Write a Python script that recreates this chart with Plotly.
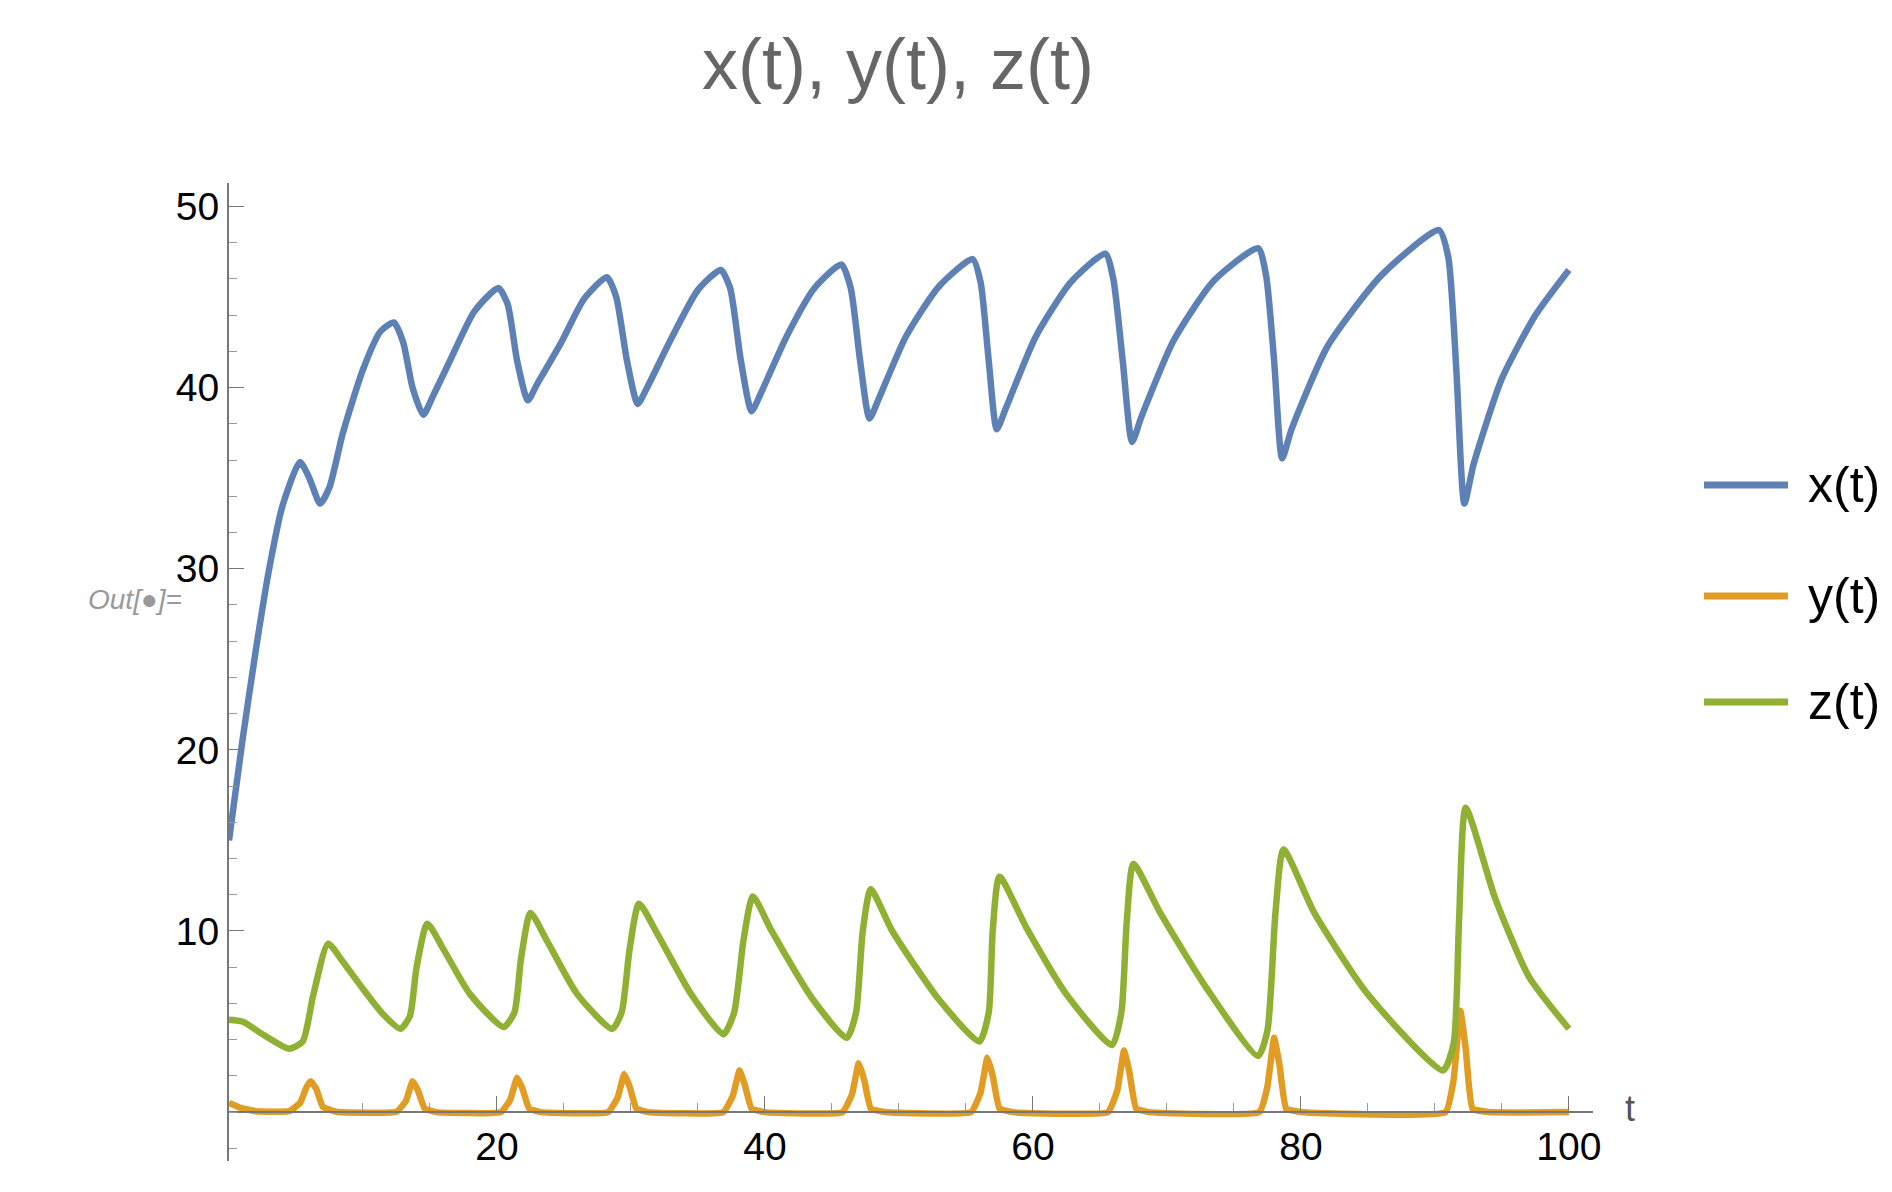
import plotly.graph_objects as go

# values
x_t = [0, 1, 2, 3, 4, 5.3, 6.0, 6.8, 7.5, 8.5, 10, 11.3, 12.3, 13.0, 13.7, 14.5, 15.2, 16.5, 18.3,
       20.1, 20.8, 21.5, 22.3, 23.0, 24.8, 26.5, 28.2, 28.9, 29.7, 30.5, 31.2, 33, 35, 36.7, 37.4,
       38.2, 39.0, 39.7, 41.6, 43.7, 45.7, 46.4, 47.1, 47.8, 48.5, 50.5, 53, 55.5, 56.1, 56.7, 57.3,
       58.0, 60.2, 62.8, 65.4, 66.0, 66.7, 67.4, 68.1, 70.5, 73.5, 76.8, 77.4, 78.0, 78.6, 79.3, 82,
       86, 90.3, 91.0, 91.6, 92.2, 92.9, 95, 97.5, 100]
x_v = [15, 20.5, 25.5, 30, 33.5, 35.9, 35.0, 33.6, 34.5, 37.5, 41, 43.1, 43.6, 42.5, 40, 38.5, 39.5,
       41.5, 44.2, 45.5, 44.6, 41.5, 39.3, 40.2, 42.5, 44.9, 46.1, 45.0, 41.5, 39.1, 40.0, 42.7, 45.4,
       46.5, 45.5, 41.5, 38.7, 39.7, 42.8, 45.5, 46.8, 45.5, 41.5, 38.3, 39.4, 42.8, 45.6, 47.1, 45.8,
       41.5, 37.7, 38.9, 42.8, 45.8, 47.4, 46, 41.5, 37.0, 38.4, 42.6, 45.9, 47.7, 46.2, 41.5, 36.1,
       37.7, 42.3, 46.2, 48.7, 47.2, 41, 33.6, 35.8, 40.5, 44, 46.5]

y_t = [0, 0.8, 2, 4.5, 5.3, 5.8, 6.1, 6.5, 7.0, 8, 12.5, 13.2, 13.7, 14.1, 14.6, 15.5, 20.3, 21.0,
       21.5, 21.9, 22.4, 23.3, 28.3, 29.0, 29.5, 29.9, 30.4, 31.3, 36.9, 37.6, 38.1, 38.5, 39.0, 40,
       45.8, 46.5, 47.0, 47.4, 47.9, 49, 55.4, 56.1, 56.6, 57.0, 57.5, 58.5, 65.6, 66.3, 66.8, 67.2,
       67.7, 68.7, 76.9, 77.5, 78.0, 78.4, 78.9, 80, 90.8, 91.4, 91.9, 92.3, 92.8, 94, 100]
y_v = [0.5, 0.25, 0.05, 0.05, 0.5, 1.4, 1.7, 1.3, 0.3, 0.02, 0.02, 0.6, 1.7, 1.2, 0.2, 0, 0, 0.7,
       1.9, 1.3, 0.2, 0, 0, 0.8, 2.1, 1.4, 0.2, 0, 0, 0.9, 2.3, 1.5, 0.2, 0, 0, 1.0, 2.7, 1.8, 0.2, 0,
       0, 1.1, 3.0, 2.0, 0.2, 0, 0, 1.2, 3.4, 2.2, 0.2, 0, 0, 1.4, 4.1, 2.6, 0.2, 0, 0, 1.8, 5.6, 3.5,
       0.2, 0, 0]

z_t = [0, 1, 2.5, 4.5, 5.5, 6.3, 7.4, 8.5, 10, 11.5, 12.8, 13.5, 14.0, 14.8, 16, 18, 20.5, 21.3,
       21.8, 22.5, 23.7, 26, 28.6, 29.3, 29.9, 30.6, 32, 34.5, 36.9, 37.7, 38.4, 39.1, 40.5, 43.5,
       46.1, 46.8, 47.3, 47.9, 49.5, 53, 56.0, 56.7, 57.0, 57.5, 59.5, 62.5, 65.9, 66.6, 67.0, 67.5,
       69.5, 73, 76.8, 77.5, 78.1, 78.7, 81, 85, 90.6, 91.4, 91.8, 92.3, 94.5, 97, 100]
z_v = [5.1, 5.0, 4.3, 3.5, 3.9, 6.5, 9.3, 8.3, 6.8, 5.4, 4.6, 5.3, 8.0, 10.4, 9.0, 6.5, 4.7, 5.5,
       8.5, 11.0, 9.5, 6.5, 4.6, 5.5, 9.0, 11.5, 9.8, 6.5, 4.3, 5.5, 9.5, 11.9, 10.0, 6.3, 4.1, 5.5,
       10.0, 12.3, 10.0, 6.2, 3.9, 5.5, 10.0, 13.0, 10.2, 6.5, 3.7, 5.5, 10.5, 13.7, 11.0, 6.8, 3.1,
       4.5, 11.0, 14.5, 11.0, 6.5, 2.3, 3.8, 10.5, 16.8, 11.8, 7.5, 4.6]

names = ["x(t)", "y(t)", "z(t)"]
colors = ["#5E81B5", "#E19C24", "#8FB032"]
series = [(x_t, x_v), (y_t, y_v), (z_t, z_v)]
smooth = [0.6, 0.35, 0.6]

font = "Liberation Sans, Arial, sans-serif"
L, R, T, B = 221, 307, 175, 39
W, H = 1892, 1192
pw, ph = W - L - R, H - T - B


def px(x):
    return (x - L) / pw


def py(y):
    return (H - B - y) / ph


fig = go.Figure()

for (t, v), name, col, sm in zip(series, names, colors, smooth):
    fig.add_trace(go.Scatter(x=t, y=v, mode="lines", name=name, showlegend=False,
                             line=dict(color=col, width=6.5, shape="spline", smoothing=sm)))

# hand-made legend
leg_y = [477, 588, 694]
for name, col, yy in zip(names, colors, leg_y):
    fig.add_shape(type="line", xref="paper", yref="paper", x0=px(1696), x1=px(1780),
                  y0=py(yy), y1=py(yy), line=dict(color=col, width=7))
    fig.add_annotation(xref="paper", yref="paper", x=px(1798), y=py(yy), text=name,
                       showarrow=False, xanchor="left", yanchor="middle",
                       font=dict(family=font, size=50, color="black"))

fig.add_annotation(xref="paper", yref="paper", x=px(1622), y=py(1100), text="t", showarrow=False,
                   xanchor="center", yanchor="middle", font=dict(family=font, size=36, color="#555555"))
fig.add_annotation(xref="paper", yref="paper", x=px(78), y=py(591),
                   text="<i>Out[</i>\u25CF<i>]=</i>", showarrow=False,
                   font=dict(family=font, size=28, color="#999999"))

fig.update_layout(
    width=W, height=H,
    paper_bgcolor="white", plot_bgcolor="white",
    margin=dict(l=L, r=R, t=T, b=B),
    title=dict(text="x(t), y(t), z(t)", x=890 / W, xanchor="center", y=1 - 56 / H,
               yanchor="middle", font=dict(family=font, size=72, color="#666666")),
    xaxis=dict(range=[0, 101.8], anchor="free", position=2.7 / 54, showline=True,
               linecolor="#777777", linewidth=2, showgrid=False, zeroline=False,
               tickvals=[20, 40, 60, 80, 100], ticks="inside", ticklen=15, tickcolor="#777777",
               minor=dict(tickvals=[5, 10, 15, 25, 30, 35, 45, 50, 55, 65, 70, 75, 85, 90, 95],
                          ticks="inside", ticklen=8, tickcolor="#999999"),
               tickfont=dict(family=font, size=39, color="black")),
    yaxis=dict(range=[-2.7, 51.3], showline=True, linecolor="#777777", linewidth=2,
               showgrid=False, zeroline=False, tickvals=[10, 20, 30, 40, 50],
               ticks="inside", ticklen=15, tickcolor="#777777",
               minor=dict(dtick=2, tick0=0, ticks="inside", ticklen=8, tickcolor="#999999"),
               tickfont=dict(family=font, size=39, color="black")),
)

fig.write_html("out.html")
